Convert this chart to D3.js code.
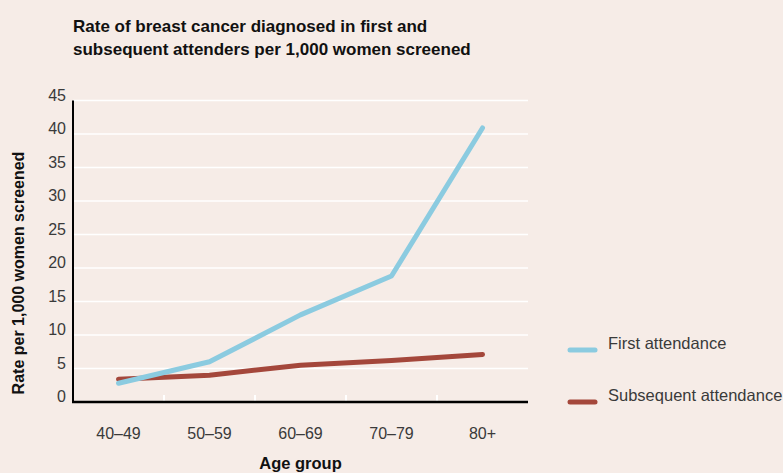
<!DOCTYPE html>
<html>
<head>
<meta charset="utf-8">
<script src="https://cdn.jsdelivr.net/npm/d3@7"></script>
<style>
  html, body { margin: 0; padding: 0; background: #f6ece7; }
  svg { display: block; font-family: "Liberation Sans", Arial, Helvetica, sans-serif; }
</style>
</head>
<body>
<div id="chart"></div>
<script>
// Age groups and rates per 1,000 women screened
const ageGroups = ["40–49", "50–59", "60–69", "70–79", "80+"];
const firstAttendance = [2.8, 6.0, 13.0, 18.8, 40.9];
const subsequentAttendance = [3.4, 4.0, 5.5, 6.2, 7.1];
const yTicks = [0, 5, 10, 15, 20, 25, 30, 35, 40, 45];
const seriesNames = ["First attendance", "Subsequent attendance"];
const seriesColors = ["#8bcbe0", "#a4473b"];

const width = 783, height = 473;
const margin = { left: 73, right: 255, top: 100.5, bottom: 71 };
const plotRight = width - margin.right;
const plotBottom = height - margin.bottom;

const svg = d3.select("#chart").append("svg")
  .attr("width", width).attr("height", height);

svg.append("rect").attr("width", width).attr("height", height).attr("fill", "#f6ece7");

const x = d3.scaleBand().domain(ageGroups).range([margin.left, plotRight]).padding(0);
const y = d3.scaleLinear().domain([0, 45]).range([plotBottom, margin.top]);

// Title
const title = svg.append("text")
  .attr("x", 73).attr("y", 32)
  .attr("font-size", 17).attr("font-weight", "bold").attr("fill", "#111");
title.append("tspan").attr("x", 73).text("Rate of breast cancer diagnosed in first and");
title.append("tspan").attr("x", 73).attr("dy", 23).text("subsequent attenders per 1,000 women screened");

// Horizontal gridlines
svg.append("g").selectAll("line").data(yTicks.filter(d => d > 0)).join("line")
  .attr("x1", margin.left).attr("x2", plotRight)
  .attr("y1", d => y(d)).attr("y2", d => y(d))
  .attr("stroke", "#ffffff").attr("stroke-width", 1.5);

// Y axis tick labels
svg.append("g").selectAll("text").data(yTicks).join("text")
  .attr("x", 66).attr("y", d => y(d))
  .attr("text-anchor", "end")
  .attr("font-size", 16).attr("fill", "#3a3a3a")
  .text(d => d);

// White category separators above the baseline
const bounds = ageGroups.slice(1).map(d => x(d));
svg.append("g").selectAll("line").data(bounds).join("line")
  .attr("x1", d => d).attr("x2", d => d)
  .attr("y1", plotBottom - 7).attr("y2", plotBottom)
  .attr("stroke", "#ffffff").attr("stroke-width", 2);

// Axis lines
svg.append("line")
  .attr("x1", margin.left).attr("x2", margin.left)
  .attr("y1", margin.top).attr("y2", plotBottom + 1)
  .attr("stroke", "#000").attr("stroke-width", 2);
svg.append("line")
  .attr("x1", margin.left - 1).attr("x2", plotRight)
  .attr("y1", plotBottom).attr("y2", plotBottom)
  .attr("stroke", "#000").attr("stroke-width", 2.5);

// X labels
svg.append("g").selectAll("text").data(ageGroups).join("text")
  .attr("x", d => x(d) + x.bandwidth() / 2).attr("y", 439)
  .attr("text-anchor", "middle")
  .attr("font-size", 16).attr("fill", "#3a3a3a")
  .text(d => d);

// Axis titles
svg.append("text")
  .attr("x", (margin.left + plotRight) / 2).attr("y", 469)
  .attr("text-anchor", "middle").attr("font-size", 16.5).attr("font-weight", "bold").attr("fill", "#111")
  .text("Age group");
svg.append("text")
  .attr("transform", `translate(24, 273) rotate(-90)`)
  .attr("text-anchor", "middle").attr("font-size", 16).attr("font-weight", "bold").attr("fill", "#111")
  .text("Rate per 1,000 women screened");

// Lines
const line = d3.line()
  .x((d, i) => x(ageGroups[i]) + x.bandwidth() / 2)
  .y(d => y(d));

[subsequentAttendance, firstAttendance].forEach((vals, k) => {
  const color = k === 0 ? seriesColors[1] : seriesColors[0];
  svg.append("path").datum(vals)
    .attr("d", line)
    .attr("fill", "none")
    .attr("stroke", color)
    .attr("stroke-width", 5)
    .attr("stroke-linejoin", "round")
    .attr("stroke-linecap", "round");
});

// Legend
const legendY = [350, 402];
seriesNames.forEach((name, i) => {
  svg.append("line")
    .attr("x1", 570).attr("x2", 595)
    .attr("y1", legendY[i]).attr("y2", legendY[i])
    .attr("stroke", seriesColors[i]).attr("stroke-width", 5)
    .attr("stroke-linecap", "round");
  svg.append("text")
    .attr("x", 608).attr("y", legendY[i] - 1)
    .attr("font-size", 16.5).attr("fill", "#3a3a3a")
    .text(name);
});
</script>
</body>
</html>
